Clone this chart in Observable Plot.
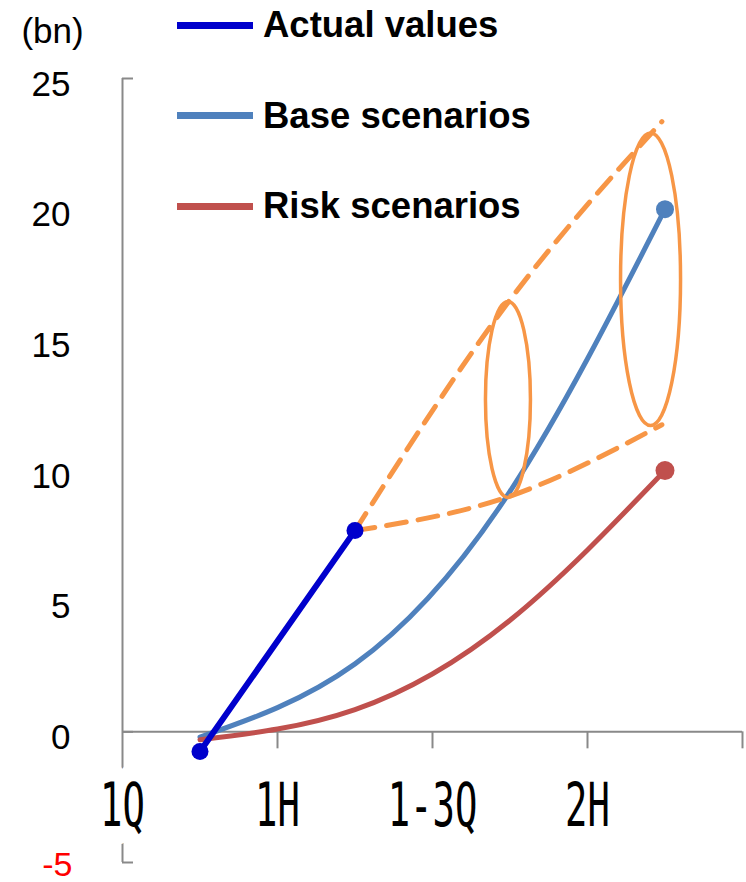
<!DOCTYPE html>
<html><head><meta charset="utf-8">
<script src="https://cdn.jsdelivr.net/npm/d3@7"></script>
<script src="https://cdn.jsdelivr.net/npm/@observablehq/plot@0.6"></script>
<style>
html,body{margin:0;padding:0;background:#fff;}
#wrap{position:relative;width:746px;height:882px;font-family:'Liberation Sans',Arial,sans-serif;}
.leg{position:absolute;left:177px;height:40px;display:flex;align-items:center;font-weight:bold;font-size:36.5px;line-height:40px;color:#000;white-space:nowrap;}
.leg .sw{width:76px;height:7px;margin-right:10px;}
</style></head><body><div id="wrap"></div>
<script>
// ---- data ----
const periods = ["1Q", "1H", "1-3Q", "2H"];
const periodTicks = [0, 1, 2, 3];          // label positions (category boundaries)
const boundaryTicks = [1, 2, 3, 4];        // x tick marks
const actualX = [0.5, 1.5];
const actualValues = [-0.75, 7.7];
const scenarioX = [0.5, 1.5, 2.5, 3.5];
const baseValues = [-0.2, 2.6, 9.2, 20];
const riskValues = [-0.3, 0.85, 4.27, 10];
const rangeX = [1.5, 2.49, 3.48];
const upperValues = [7.7, 16.45, 23.35];
const lowerValues = [7.7, 9.0, 11.75];
const ellipseX = [2.49, 3.41];
const ellipseLow = [8.95, 11.7];
const ellipseHigh = [16.45, 22.9];
const yTicks = [25, 20, 15, 10, 5, 0];
const yNegTicks = [-5];
const yEdgeTicks = [25, 0, -5];
const legendNames = ["Actual values", "Base scenarios", "Risk scenarios"];
const legendColors = ["#0000CC", "#4F81BD", "#C0504D"];

// ---- styles ----
const gray = "#898989";
const orange = "#F79646";
const blue = "#0000CC", baseC = "#4F81BD", riskC = "#C0504D";

const idx = a => a.map((_, i) => i);

const plot = Plot.plot({
  width: 746, height: 882,
  marginLeft: 122, marginRight: 4, marginTop: 78, marginBottom: 20,
  x: {domain: [0, 4], axis: null},
  y: {domain: [-5, 25]},
  style: {fontFamily: "'Liberation Sans', Arial, sans-serif", background: "white", overflow: "visible", color: "black"},
  marks: [
    Plot.ruleX([0], {stroke: gray, strokeWidth: 2}),
    Plot.ruleY([0], {stroke: gray, strokeWidth: 2}),
    Plot.ruleX(boundaryTicks, {y1: 0, y2: 0, insetBottom: -17, stroke: gray, strokeWidth: 2}),
    Plot.ruleY(yEdgeTicks, {x1: 0, x2: 0, insetRight: -11, stroke: gray, strokeWidth: 2}),
    Plot.axisY({ticks: yTicks, tickSize: 0, tickPadding: 52, fontSize: 35, dy: 6, fill: "black", label: null, tickFormat: d => String(d)}),
    Plot.axisY({ticks: yNegTicks, tickSize: 0, tickPadding: 50, fontSize: 34, dy: 3, fill: "#FF0000", label: null, tickFormat: d => String(d)}),
    Plot.text(["(bn)"], {frameAnchor: "top-left", dx: -70, dy: -47, lineAnchor: "middle", fontSize: 35, textAnchor: "middle", fill: "black"}),
    Plot.text(periods, {x: (d, i) => periodTicks[i], frameAnchor: "bottom", lineAnchor: "middle", dy: -56, fontSize: 60,
      fontFamily: "'DejaVu Sans Mono', monospace", fill: "black", stroke: "white", strokeWidth: 36,
      paintOrder: "stroke", strokeLinejoin: "round"}),
    // scenario curves
    Plot.line(idx(scenarioX), {x: i => scenarioX[i], y: i => baseValues[i], curve: "natural", stroke: baseC, strokeWidth: 5}),
    Plot.line(idx(scenarioX), {x: i => scenarioX[i], y: i => riskValues[i], curve: "natural", stroke: riskC, strokeWidth: 5}),
    // range dashed lines
    Plot.line(idx(rangeX), {x: i => rangeX[i], y: i => upperValues[i], curve: "natural", stroke: orange, strokeWidth: 5, strokeDasharray: "20,12"}),
    Plot.line(idx(rangeX), {x: i => rangeX[i], y: i => lowerValues[i], curve: "natural", stroke: orange, strokeWidth: 5, strokeDasharray: "20,12"}),
    // ellipses
    Plot.rect([0], {x1: i => ellipseX[i], x2: i => ellipseX[i], y1: i => ellipseLow[i], y2: i => ellipseHigh[i],
      insetLeft: -22.5, insetRight: -22.5, rx: 1000, ry: 1000, fill: "none", stroke: orange, strokeWidth: 3.5}),
    Plot.rect([1], {x1: i => ellipseX[i], x2: i => ellipseX[i], y1: i => ellipseLow[i], y2: i => ellipseHigh[i],
      insetLeft: -30, insetRight: -30, rx: 1000, ry: 1000, fill: "none", stroke: orange, strokeWidth: 3.5}),
    // actual
    Plot.line(idx(actualX), {x: i => actualX[i], y: i => actualValues[i], stroke: blue, strokeWidth: 6}),
    Plot.dot(idx(actualX), {x: i => actualX[i], y: i => actualValues[i], r: 8.5, fill: blue}),
    Plot.dot([scenarioX.length - 1], {x: i => scenarioX[i], y: i => baseValues[i], r: 9, fill: baseC}),
    Plot.dot([scenarioX.length - 1], {x: i => scenarioX[i], y: i => riskValues[i], r: 9.5, fill: riskC})
  ]
});

// condense the period labels (narrow gothic look)
d3.select(plot).selectAll("text").filter(function () {
  return periods.includes(this.textContent) && this.getAttribute("font-family") !== null
    || periods.includes(this.textContent);
}).each(function () {
  let t = this.getAttribute("transform");
  if (!t) {
    const x = this.getAttribute("x") || 0, y = this.getAttribute("y") || 0;
    this.removeAttribute("x"); this.removeAttribute("y");
    t = `translate(${x},${y})`;
  }
  this.setAttribute("transform", t + " scale(0.62,1)");
});

const wrap = document.getElementById("wrap");
wrap.appendChild(plot);
legendNames.forEach((name, i) => {
  const row = document.createElement("div");
  row.className = "leg";
  row.style.top = (5 + i * 90.5) + "px";
  const sw = document.createElement("div");
  sw.className = "sw";
  sw.style.background = legendColors[i];
  const tx = document.createElement("span");
  tx.textContent = name;
  row.appendChild(sw); row.appendChild(tx);
  wrap.appendChild(row);
});
</script></body></html>
